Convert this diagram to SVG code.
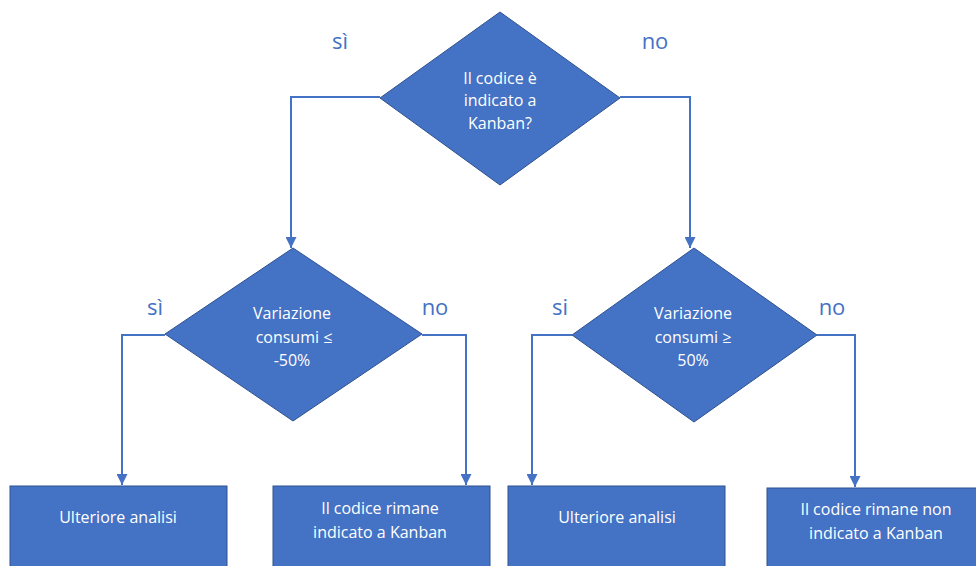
<svg xmlns="http://www.w3.org/2000/svg" width="976" height="566" viewBox="0 0 976 566">
  <style>
    .shape { fill: #4472C4; stroke: #2F528F; stroke-width: 1; }
    .in { fill: #FFFFFF; font-family: "Open Sans", "Liberation Sans", sans-serif; font-size: 16px; text-anchor: middle; }
    .lbl { fill: #4472C4; font-family: "Open Sans", "Liberation Sans", sans-serif; font-size: 22px; text-anchor: middle; }
    .wire { fill: none; stroke: #4472C4; stroke-width: 2; }
  </style>
  <defs>
    <marker id="arrow" viewBox="0 0 10 10" refX="10" refY="5" markerWidth="5.5" markerHeight="5.5" orient="auto" markerUnits="strokeWidth">
      <path d="M0,0 L10,5 L0,10 Z" fill="#4472C4"/>
    </marker>
  </defs>
  <rect width="976" height="566" fill="#FFFFFF"/>

  <g id="connectors">
    <polyline class="wire" points="380,97 291,97 291,248" marker-end="url(#arrow)"/>
    <polyline class="wire" points="620,97 690,97 690,248" marker-end="url(#arrow)"/>
    <polyline class="wire" points="165,335 122,335 122,485" marker-end="url(#arrow)"/>
    <polyline class="wire" points="422,335 466,335 466,485" marker-end="url(#arrow)"/>
    <polyline class="wire" points="572,335 532,335 532,485" marker-end="url(#arrow)"/>
    <polyline class="wire" points="817,335 855,335 855,487" marker-end="url(#arrow)"/>
  </g>

  <g id="labels">
    <text class="lbl" x="340" y="49">sì</text>
    <text class="lbl" x="655" y="49">no</text>
    <text class="lbl" x="155" y="315">sì</text>
    <text class="lbl" x="435" y="315">no</text>
    <text class="lbl" x="560" y="315">si</text>
    <text class="lbl" x="832" y="315">no</text>
  </g>

  <g id="q-kanban">
    <polygon class="shape" points="500,12 620,98 500,185 380,98"/>
    <text class="in" x="500" y="84">Il codice è</text>
    <text class="in" x="500" y="106">indicato a</text>
    <text class="in" x="500" y="129">Kanban?</text>
  </g>

  <g id="q-calo">
    <polygon class="shape" points="293,248 422,334 293,421 165,334"/>
    <text class="in" x="292" y="319">Variazione</text>
    <text class="in" x="294" y="343">consumi  ≤</text>
    <text class="in" x="292" y="366">-50%</text>
  </g>

  <g id="q-aumento">
    <polygon class="shape" points="694,248 817,335 694,422 572,335"/>
    <text class="in" x="693" y="319">Variazione</text>
    <text class="in" x="693" y="343">consumi ≥</text>
    <text class="in" x="693" y="366">50%</text>
  </g>

  <g id="analisi-1">
    <rect class="shape" x="10" y="486" width="217" height="90"/>
    <text class="in" x="118" y="523">Ulteriore analisi</text>
  </g>

  <g id="resta-kanban">
    <rect class="shape" x="273" y="486" width="217" height="90"/>
    <text class="in" x="380" y="514">Il codice rimane</text>
    <text class="in" x="380" y="538">indicato a Kanban</text>
  </g>

  <g id="analisi-2">
    <rect class="shape" x="508" y="486" width="217" height="90"/>
    <text class="in" x="617" y="523">Ulteriore analisi</text>
  </g>

  <g id="resta-non-kanban">
    <rect class="shape" x="767" y="488" width="220" height="90"/>
    <text class="in" x="876" y="515">Il codice rimane non</text>
    <text class="in" x="876" y="539">indicato a Kanban</text>
  </g>
</svg>
